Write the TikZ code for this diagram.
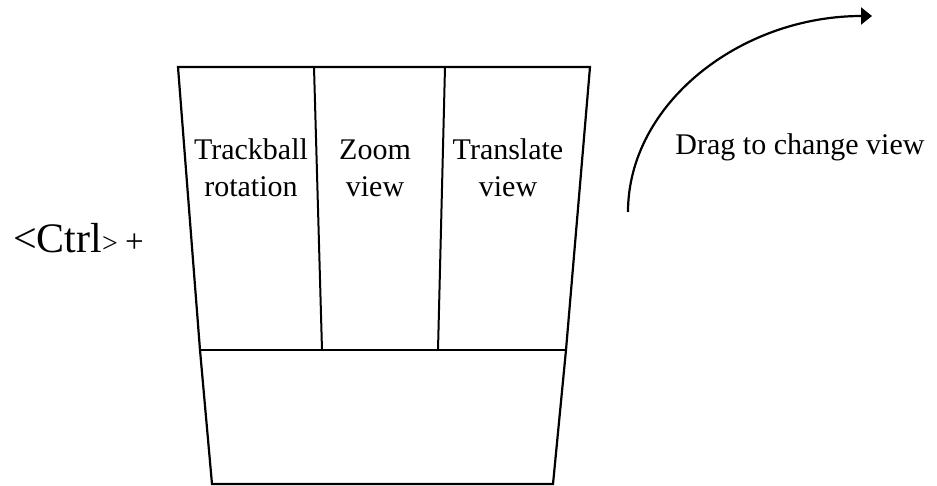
\documentclass[tikz,border=0pt]{standalone}
\usepackage{fontspec}
\setmainfont{Liberation Serif}
\usetikzlibrary{arrows.meta}
\begin{document}
\begin{tikzpicture}[x=1pt,y=-1pt,
  outline/.style={line width=2.2pt,line cap=round,line join=miter},
  divider/.style={line width=2pt},
  label/.style={inner sep=0pt,align=center,anchor=base,
    font=\fontsize{30}{37}\selectfont},
  dragarrow/.style={line width=2.2pt,-{Triangle[length=11pt,width=17pt]}}]
  \useasboundingbox (0,0) rectangle (937,486);

  % corners of the tapered box
  \coordinate (tl) at (178,67);
  \coordinate (tr) at (590,67);
  \coordinate (ml) at (200,350);
  \coordinate (mr) at (566,350);
  \coordinate (bl) at (212,484);
  \coordinate (br) at (553,484);
  % column dividers
  \coordinate (d1t) at (314,67);
  \coordinate (d1b) at (322,350);
  \coordinate (d2t) at (445,67);
  \coordinate (d2b) at (438,350);

  \draw[outline] (tl) -- (tr) -- (mr) -- (br) -- (bl) -- (ml) -- cycle;
  \draw[outline] (ml) -- (mr);
  \draw[divider] (d1t) -- (d1b);
  \draw[divider] (d2t) -- (d2b);

  % column labels (base anchor sits on the second line)
  \node[label] (rot) at (251,197) {Trackball\\rotation};
  \node[label] (zoom) at (375,197) {Zoom\\view};
  \node[label] (trans) at (508,197) {Translate\\view};

  % modifier key
  \node[inner sep=0pt,anchor=base west] (ctrl) at (13,253)
    {{\fontsize{42}{42}\selectfont <Ctrl}{\fontsize{28}{28}\selectfont > }{\fontsize{33}{33}\selectfont +}};

  % drag gesture
  \coordinate (dragstart) at (628,212);
  \coordinate (dragend) at (872,16);
  \draw[dragarrow] (dragstart) .. controls (628,104) and (740,16) .. (dragend);
  \node[inner sep=0pt,anchor=base,font=\fontsize{30}{37}\selectfont] (drag) at (800,155) {Drag to change view};
\end{tikzpicture}
\end{document}
